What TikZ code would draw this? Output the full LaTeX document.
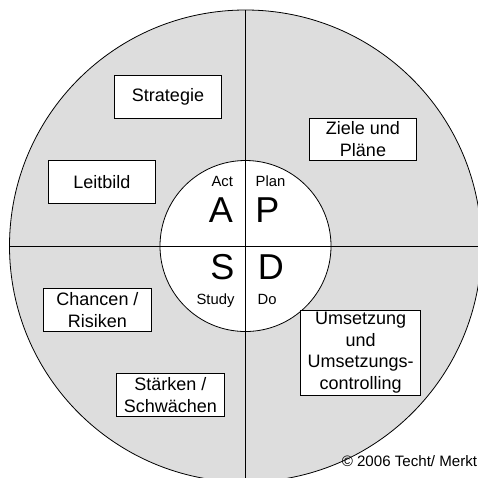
\documentclass[tikz,border=0pt]{standalone}
\usepackage{fontspec}
\setmainfont{Liberation Sans}
\definecolor{outergray}{RGB}{221,221,221}
\begin{document}
\begin{tikzpicture}[x=1pt,y=-1pt,
  box/.style={draw=black,fill=white,line width=0.8pt,inner sep=0pt,align=center,
    minimum width=107.4pt,minimum height=42.5pt,font=\fontsize{18}{21.7}\selectfont},
  small/.style={font=\fontsize{14.8}{17}\selectfont,inner sep=0pt,anchor=base},
  big/.style={font=\fontsize{36}{40}\selectfont,inner sep=0pt,anchor=base},
  ring/.style={draw=black,line width=0.8pt}]
\useasboundingbox (0,0) rectangle (478,477);
\fill[white] (0,0) rectangle (478,477);
\begin{scope}
\clip (0,0) rectangle (478,477);
\coordinate (c) at (245.5,246);
\coordinate (top) at (245.5,10);
\coordinate (bot) at (245.5,482);
\coordinate (lft) at (9.5,246);
\coordinate (rgt) at (481.5,246);
\draw[ring,fill=outergray] (c) circle[radius=236pt];
\draw[ring,fill=white] (c) circle[radius=85.5pt];
\draw[ring] (top) -- (bot);
\draw[ring] (lft) -- (rgt);
\end{scope}
\node[box] (strat) at (168,96.8) {Strategie};
\node[box] (ziele) at (363,139.3) {Ziele und\\Pläne};
\node[box] (leit) at (101.8,182) {Leitbild};
\node[box] (chan) at (97.5,309.8) {Chancen /\\Risiken};
\node[box] (staerk) at (170.3,395) {Stärken /\\Schwächen};
\node[box,minimum width=120pt,minimum height=85pt] (ums) at (360.7,352.8) {Umsetzung\\und\\Umsetzungs-\\controlling};
\node[small] (act) at (222.2,186) {Act};
\node[small] (plan) at (270.5,186) {Plan};
\node[big] (a) at (220.8,222.7) {A};
\node[big] (p) at (267.5,222.7) {P};
\node[big] (s) at (222.5,279.3) {S};
\node[big] (d) at (270.8,279.3) {D};
\node[small] (study) at (215.5,304) {Study};
\node[small] (do) at (267.2,304) {Do};
\node[font=\fontsize{15.1}{17}\selectfont,inner sep=0pt,anchor=base east] (copy) at (477.3,466) {© 2006 Techt/ Merkt};
\end{tikzpicture}
\end{document}
